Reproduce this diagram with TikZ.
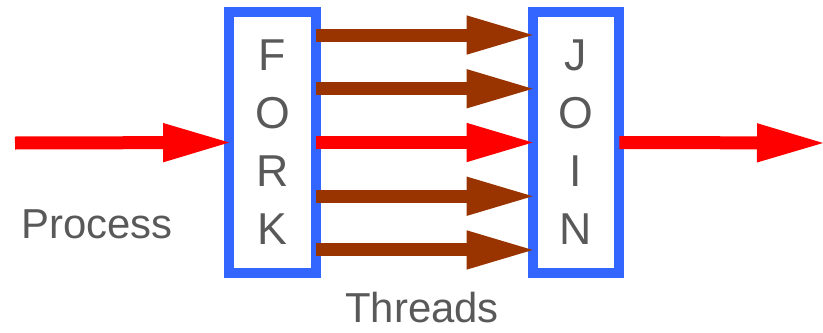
\documentclass[tikz,border=0pt]{standalone}
\usepackage{fontspec}
\setmainfont{Liberation Sans}
\usetikzlibrary{arrows.meta}
\definecolor{bleu}{HTML}{3366FF}
\definecolor{brique}{HTML}{993300}
\definecolor{gris}{HTML}{595959}

\begin{document}
\begin{tikzpicture}[x=0.75pt,y=-0.75pt]
% les styles
\tikzstyle{boite}=[rectangle,draw=bleu,line width=7.5pt,minimum width=65pt,minimum height=196pt,
  inner sep=0pt,outer sep=0pt,text=gris,align=center,font=\fontsize{33.5}{43.5}\selectfont]
\tikzstyle{fleche}=[-{Triangle[length=49.5pt,width=29.5pt,line width=0pt]},line width=9.75pt]
\tikzstyle{legende}=[text=gris,anchor=base,inner sep=0pt,font=\fontsize{31.4}{36}\selectfont]
\useasboundingbox (0,0) rectangle (823,332);
% les boîtes
\node[boite] (fork) at (272.5,142.5) {F\\O\\R\\K};
\node[boite] (join) at (576,142.5) {J\\O\\I\\N};
\coordinate (entree) at (15,143);
\coordinate (sortie) at (823,143);
% les flèches
\draw[fleche,red] (entree)--(fork.west);
\foreach \k in {2,1,-1,-2}
  \draw[fleche,brique] ([yshift=\k*40.3pt]fork.east)--([yshift=\k*40.3pt]join.west);
\draw[fleche,red] (fork.east)--(join.west);
\draw[fleche,red] (join.east)--(sortie);
% la légende
\node[legende] (process) at (97,238) {Process};
\node[legende] (threads) at (422,322) {Threads};
\end{tikzpicture}
\end{document}
